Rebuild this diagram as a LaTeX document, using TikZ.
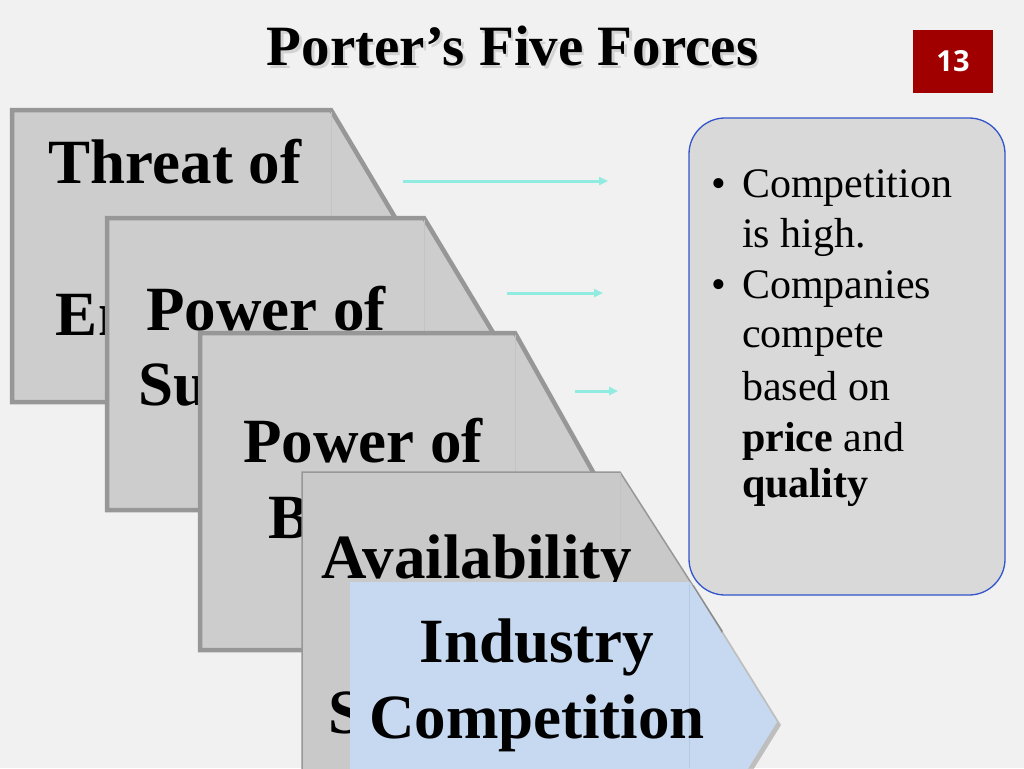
\documentclass[tikz,border=0pt]{standalone}
\usepackage{fontspec}
\setmainfont{Liberation Serif}
\newfontfamily\badgefont{Open Sans}
\usetikzlibrary{arrows.meta}
\definecolor{bg}{HTML}{F1F1F1}
\definecolor{boxfill}{HTML}{CDCDCD}
\definecolor{boxfillb}{HTML}{C9C9C9}
\definecolor{boxline}{HTML}{979797}
\definecolor{seam}{HTML}{C3C3C3}
\definecolor{bluefill}{HTML}{C6D9F0}
\definecolor{blueseam}{HTML}{B5C9E2}
\definecolor{arrowc}{HTML}{90EBE0}
\definecolor{panelfill}{HTML}{D9D9D9}
\definecolor{panelline}{HTML}{3355CC}
\definecolor{badgered}{HTML}{A00000}
\tikzset{
  forcebox/.style={fill=boxfill, draw=boxline, line width=4.5pt, line join=miter},
  forceboxthin/.style={fill=boxfillb, draw=boxline, line width=1.5pt, line join=miter},
  centerbox/.style={fill=bluefill},
  shadowbox/.style={fill=black!50, opacity=0.45},
  seamline/.style={draw=seam, line width=0.8pt},
  boxtext/.style={anchor=base, inner sep=0pt, font=\fontsize{63}{75}\selectfont\bfseries},
  forcearrow/.style={draw=arrowc, line width=3pt, -{Triangle[length=9pt,width=8pt]}},
  panel/.style={fill=panelfill, draw=panelline, line width=1.3pt, rounded corners=36pt,
    minimum width=316pt, minimum height=477pt, inner sep=0pt},
  paneltext/.style={anchor=base west, inner sep=0pt, font=\fontsize{42}{50}\selectfont},
  bullettext/.style={anchor=base, inner sep=0pt, font=\fontsize{42}{50}\selectfont},
  titletext/.style={anchor=base, inner sep=0pt, font=\fontsize{57}{66}\selectfont\bfseries},
}
\begin{document}
\begin{tikzpicture}[x=1pt,y=-1pt]
\useasboundingbox (0,0) rectangle (1024,768);
\clip (0,0) rectangle (1024,768);
\fill[bg] (0,0) rectangle (1024,768);

% title (with soft shadow)
\node[titletext, text=black!40, opacity=0.35] (titleshadow) at (515,68.5) {Porter’s Five Forces};
\node[titletext] (title) at (512.5,66) {Porter’s Five Forces};

% badge
\node[fill=badgered, minimum width=80pt, minimum height=63pt, inner sep=0pt,
      text=white, font=\badgefont\fontsize{29}{30}\selectfont\bfseries] (badge) at (953,61.5) {13};

% box 1
\draw[forcebox] (12,110) -- (331,110) -- (418,256) -- (331,402) -- (12,402) -- cycle;
\draw[seamline] (331,112) -- (331,400);
\node[boxtext] (b1a) at (175,183) {Threat of};
\node[boxtext] (b1b) at (175,259) {New};
\node[boxtext] (b1c) at (175,335) {Entrants};

% box 2
\draw[forcebox] (107,218) -- (424,218) -- (512,364) -- (424,510) -- (107,510) -- cycle;
\draw[seamline] (424,220) -- (424,508);
\node[boxtext] (b2a) at (266,330) {Power of};
\node[boxtext] (b2b) at (266,405) {Suppliers};

% box 3
\draw[forcebox] (200,333) -- (515,333) -- (604,491.5) -- (515,650) -- (200,650) -- cycle;
\draw[seamline] (515,335) -- (515,648);
\node[boxtext] (b3a) at (363,462) {Power of};
\node[boxtext] (b3b) at (363,538) {Buyers};

% box 4
\draw[forceboxthin] (302,472) -- (620,472) -- (722,631) -- (620,790) -- (302,790) -- cycle;
\draw[seamline] (620,473) -- (620,789);
\node[boxtext] (b4a) at (477,578) {Availability};
\node[boxtext] (b4b) at (477,655) {of};
\node[boxtext] (b4c) at (477,733) {Substitutes};

% box 5 (industry competition)
\fill[shadowbox] (354,585) -- (694,585) -- (781,725) -- (694,865) -- (354,865) -- cycle;
\fill[centerbox] (350,582) -- (690,582) -- (777,722) -- (690,862) -- (350,862) -- cycle;
\draw[draw=blueseam, line width=0.8pt] (689,583) -- (689,768);
\node[boxtext] (b5a) at (537,662) {Industry};
\node[boxtext] (b5b) at (537,738) {Competition};

% arrows
\coordinate (a1s) at (403,181); \coordinate (a1e) at (608,181);
\coordinate (a2s) at (507,293); \coordinate (a2e) at (603,293);
\coordinate (a3s) at (575,391); \coordinate (a3e) at (618,391);
\draw[forcearrow] (a1s) -- (a1e);
\draw[forcearrow] (a2s) -- (a2e);
\draw[forcearrow] (a3s) -- (a3e);

% panel
\node[panel] (panel) at (847,356.5) {};
\node[bullettext] (bul1) at (719,197) {•};
\node[paneltext] (p1) at (742,197) {Competition};
\node[paneltext] (p2) at (742,247) {is high.};
\node[bullettext] (bul2) at (719,298) {•};
\node[paneltext] (p3) at (742,298) {Companies};
\node[paneltext] (p4) at (742,347) {compete};
\node[paneltext] (p5) at (742,400) {based on};
\node[paneltext] (p6) at (742,451) {\textbf{price} and};
\node[paneltext] (p7) at (742,497) {\textbf{quality}};
\end{tikzpicture}
\end{document}
